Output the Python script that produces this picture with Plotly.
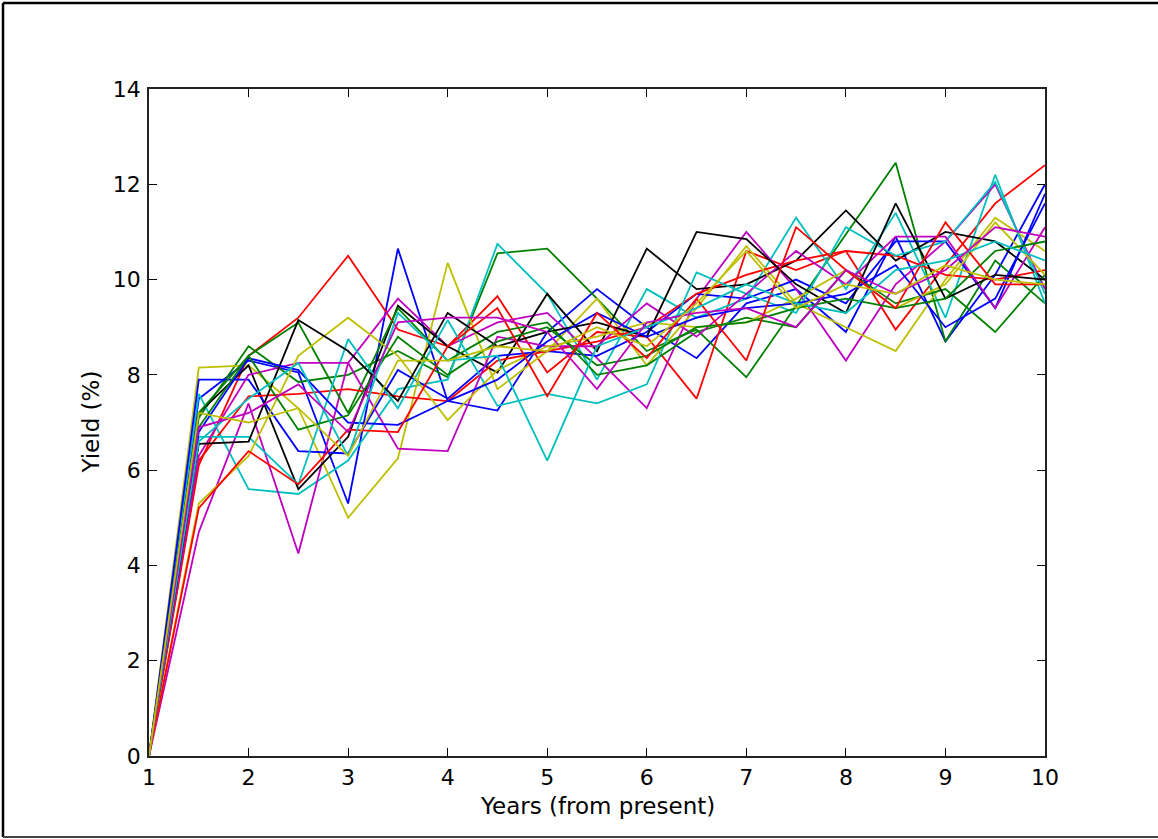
import plotly.graph_objects as go

years = [1, 1.5, 2, 2.5, 3, 3.5, 4, 4.5, 5, 5.5, 6, 6.5, 7, 7.5, 8, 8.5, 9, 9.5, 10]

b1 = [0, 7.5, 8.3, 8.05, 5.3, 10.65, 7.45, 7.25, 8.9, 9.8, 9.0, 8.35, 9.5, 9.8, 8.9, 10.9, 8.7, 10.1, 12.0]
g1 = [0, 7.1, 8.6, 7.85, 8.0, 8.5, 7.95, 10.55, 10.65, 9.6, 8.5, 8.95, 7.95, 9.45, 10.95, 12.45, 8.7, 10.4, 9.5]
r1 = [0, 6.1, 8.4, 9.2, 10.5, 8.95, 8.6, 9.65, 8.05, 8.9, 8.8, 7.5, 10.6, 10.2, 10.6, 8.95, 10.3, 11.6, 12.4]
c1 = [0, 7.6, 5.6, 5.5, 6.2, 7.7, 7.9, 10.75, 9.7, 7.9, 9.8, 9.2, 9.6, 11.3, 9.8, 11.4, 9.2, 12.2, 9.5]
m1 = [0, 4.7, 7.4, 4.25, 8.25, 9.6, 8.6, 9.1, 9.3, 8.35, 7.3, 9.6, 11.0, 9.8, 8.3, 9.9, 10.8, 12.0, 9.8]
y1 = [0, 8.15, 8.2, 7.3, 5.0, 6.25, 10.35, 7.7, 8.5, 9.6, 8.2, 9.4, 10.7, 9.5, 9.0, 8.5, 10.0, 11.3, 10.6]
k1 = [0, 7.2, 8.2, 5.6, 6.7, 9.45, 8.6, 8.05, 9.7, 8.5, 10.65, 9.8, 9.9, 10.4, 11.45, 10.4, 11.0, 10.8, 10.0]
b2 = [0, 7.9, 7.9, 6.4, 6.35, 8.1, 7.5, 8.4, 8.5, 8.4, 8.9, 9.7, 9.6, 10.0, 9.5, 10.8, 10.8, 9.4, 11.8]
g2 = [0, 6.9, 8.4, 9.1, 7.2, 9.4, 8.3, 8.9, 9.1, 8.0, 8.2, 8.9, 9.2, 9.0, 10.2, 9.5, 9.8, 8.9, 10.1]
r2 = [0, 6.2, 7.55, 7.6, 7.7, 7.55, 7.45, 8.3, 8.5, 8.7, 9.0, 9.7, 10.1, 10.4, 10.6, 10.5, 10.1, 10.0, 10.2]
c2 = [0, 6.7, 6.7, 5.7, 8.75, 7.3, 9.15, 7.35, 7.6, 7.4, 7.8, 10.15, 9.7, 9.3, 11.1, 10.5, 10.8, 12.05, 9.7]
m2 = [0, 6.3, 8.0, 8.25, 8.25, 6.45, 6.4, 8.8, 8.6, 8.6, 9.5, 8.8, 9.7, 10.6, 9.9, 10.9, 10.9, 9.4, 11.1]
y2 = [0, 5.3, 6.3, 8.4, 9.2, 8.4, 7.05, 8.1, 8.6, 8.8, 9.1, 9.0, 9.1, 9.6, 10.2, 9.4, 9.9, 11.2, 10.1]
k2 = [0, 6.55, 6.6, 9.15, 8.5, 7.45, 9.3, 8.6, 8.9, 9.1, 8.8, 11.0, 10.85, 9.9, 9.3, 11.6, 9.6, 10.1, 10.0]
b3 = [0, 6.8, 8.35, 8.1, 7.0, 6.95, 7.45, 7.9, 8.7, 9.3, 8.8, 9.2, 9.4, 9.5, 9.7, 10.3, 9.0, 9.6, 11.6]
g3 = [0, 7.2, 8.4, 6.85, 7.15, 8.8, 8.0, 8.7, 9.0, 8.2, 8.4, 9.0, 9.1, 9.4, 9.6, 9.4, 9.6, 10.6, 10.8]
r3 = [0, 5.2, 6.4, 5.7, 6.85, 6.8, 8.6, 9.4, 7.55, 9.3, 8.35, 9.6, 8.3, 11.1, 10.2, 9.4, 11.2, 9.9, 9.9]
c3 = [0, 6.6, 7.5, 8.25, 6.3, 9.3, 8.3, 8.4, 6.2, 8.6, 9.0, 9.4, 9.9, 9.5, 9.3, 10.2, 10.4, 10.8, 10.4]
m3 = [0, 6.9, 7.2, 7.8, 6.8, 9.1, 9.2, 9.2, 8.9, 7.7, 9.1, 9.3, 9.4, 9.0, 10.2, 9.7, 10.2, 11.1, 10.9]
y3 = [0, 7.2, 7.0, 7.3, 6.3, 8.3, 8.3, 8.6, 8.5, 9.0, 8.6, 9.5, 10.6, 9.4, 9.9, 9.7, 10.3, 10.0, 9.9]

series = [b1, g1, r1, c1, m1, y1, k1, b2, g2, r2, c2, m2, y2, k2, b3, g3, r3, c3, m3, y3]
palette = ["#0000ff", "#008000", "#ff0000", "#00bfbf", "#bf00bf", "#bfbf00", "#000000"]

x_ticks = [1, 2, 3, 4, 5, 6, 7, 8, 9, 10]
y_ticks = [0, 2, 4, 6, 8, 10, 12, 14]

fig = go.Figure()
for i, s in enumerate(series):
    fig.add_trace(go.Scatter(x=years, y=s, mode="lines",
                             line=dict(color=palette[i % 7], width=1.8),
                             showlegend=False, hoverinfo="skip"))

L, R, T, B = 149, 1045, 89, 756
W, H = 1158, 839
pw, ph = R - L, B - T

def px(xp):
    return (xp - L) / pw

def py(yp):
    return (B - yp) / ph

tick_font = dict(family="DejaVu Sans", size=22, color="black")
label_font = dict(family="DejaVu Sans", size=23, color="black")

fig.update_layout(
    width=W, height=H,
    margin=dict(l=L, r=W - R, t=T, b=H - B, pad=0),
    paper_bgcolor="white", plot_bgcolor="white",
    font=tick_font,
    xaxis=dict(range=[1, 10], tickvals=x_ticks, ticks="inside", ticklen=8,
               tickwidth=1, tickcolor="black", showline=True, linecolor="#222",
               linewidth=1.5, mirror="ticks", showgrid=False, zeroline=False,
               tickfont=tick_font, ticklabelstandoff=1),
    yaxis=dict(range=[0, 14], tickvals=y_ticks, ticks="inside", ticklen=8,
               tickwidth=1, tickcolor="black", showline=True, linecolor="#222",
               linewidth=1.5, mirror="ticks", showgrid=False, zeroline=False,
               tickfont=tick_font, ticklabelstandoff=2),
    annotations=[
        dict(text="Years (from present)", xref="paper", yref="paper",
             x=px((L + R) / 2), y=py(806), showarrow=False, font=label_font,
             xanchor="center", yanchor="middle"),
        dict(text="Yield (%)", xref="paper", yref="paper",
             x=px(90), y=py((T + B) / 2), showarrow=False, font=label_font,
             textangle=-90, xanchor="center", yanchor="middle"),
    ],
    shapes=[
        dict(type="line", xref="paper", yref="paper", x0=px(3), x1=px(1160),
             y0=py(3), y1=py(3), line=dict(color="black", width=2.5)),
        dict(type="line", xref="paper", yref="paper", x0=px(3), x1=px(3),
             y0=py(3), y1=py(837), line=dict(color="black", width=2.5)),
        dict(type="line", xref="paper", yref="paper", x0=px(3), x1=px(1160),
             y0=py(837), y1=py(837), line=dict(color="#444", width=2)),
    ],
)

fig.write_html("out.html")
